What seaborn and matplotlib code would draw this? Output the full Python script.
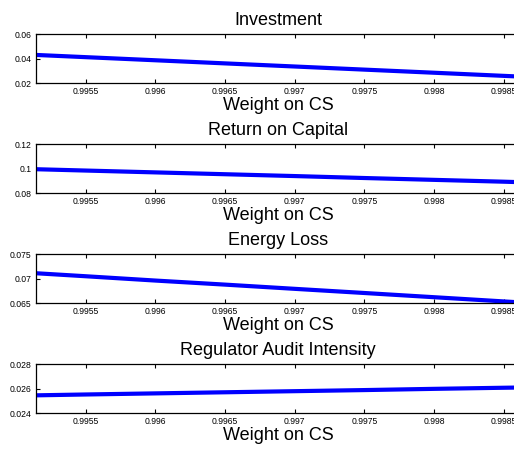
import matplotlib
matplotlib.use("Agg")
import matplotlib.pyplot as plt
import seaborn as sns
import pandas as pd
from matplotlib.ticker import FormatStrFormatter, FixedLocator

sns.set_style("white")
plt.rcParams['font.family'] = ['Liberation Sans', 'DejaVu Sans']
plt.rcParams['text.color'] = 'black'
plt.rcParams['axes.labelcolor'] = 'black'

weight = [0.99514, 0.9955, 0.996, 0.9965, 0.997, 0.9975, 0.998, 0.9985, 0.99862]
investment = [0.0430, 0.04117, 0.03863, 0.03608, 0.03354, 0.03099, 0.02845, 0.02590, 0.02529]
return_on_capital = [0.0995, 0.0984, 0.0969, 0.0954, 0.0939, 0.0923, 0.0908, 0.0893, 0.0889]
energy_loss = [0.0711, 0.07048, 0.0696, 0.06877, 0.06791, 0.06706, 0.0662, 0.06534, 0.06514]
audit_intensity = [0.02545, 0.02552, 0.02561, 0.0257, 0.02579, 0.02588, 0.02598, 0.02607, 0.02609]

titles = ["Investment", "Return on Capital", "Energy Loss", "Regulator Audit Intensity"]
series = [investment, return_on_capital, energy_loss, audit_intensity]
ylims = [(0.02, 0.06), (0.08, 0.12), (0.065, 0.075), (0.024, 0.028)]
yticks = [[0.02, 0.04, 0.06], [0.08, 0.1, 0.12], [0.065, 0.07, 0.075], [0.024, 0.026, 0.028]]
xticks = [0.9955, 0.996, 0.9965, 0.997, 0.9975, 0.998, 0.9985]
xlabel = "Weight on CS"

fig = plt.figure(figsize=(5.14, 4.49), dpi=100)
bottoms = [0.815, 0.570, 0.325, 0.080]
for i in range(4):
    ax = fig.add_axes([0.0695, bottoms[i], 0.9426, 0.109])
    df = pd.DataFrame({"x": weight, "y": series[i]})
    sns.lineplot(data=df, x="x", y="y", ax=ax, color=(0, 0, 1), linewidth=3)
    ax.set_xlim(0.99514, 0.99862)
    ax.set_ylim(*ylims[i])
    ax.xaxis.set_major_locator(FixedLocator(xticks))
    ax.yaxis.set_major_locator(FixedLocator(yticks[i]))
    ax.xaxis.set_major_formatter(FormatStrFormatter('%g'))
    ax.yaxis.set_major_formatter(FormatStrFormatter('%g'))
    ax.tick_params(direction='in', length=3, width=0.8, labelsize=6.2, top=True, right=True,
                   bottom=True, left=True, pad=3, colors='black', labelcolor='black')
    for s in ax.spines.values():
        s.set_color('black')
        s.set_linewidth(0.9)
    ax.set_title(titles[i], fontsize=13, pad=6.5, color='black')
    ax.set_xlabel(xlabel, fontsize=13, labelpad=0.5, color='black')
    ax.set_ylabel("")

fig.savefig("out.png", dpi=100)
